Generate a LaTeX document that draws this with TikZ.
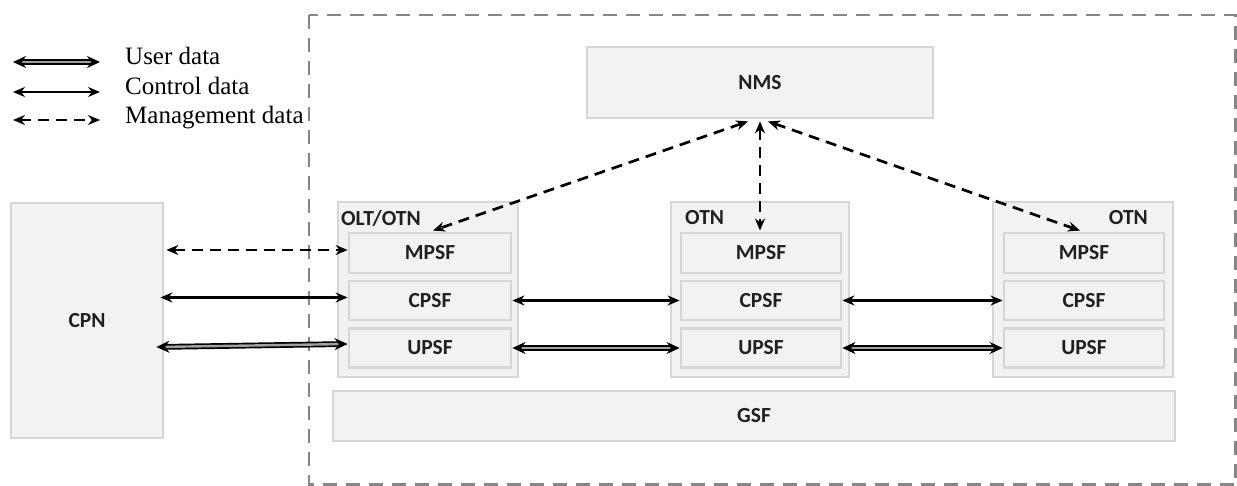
\documentclass[tikz,border=0pt]{standalone}
\usepackage{fontspec}
\setmainfont{Liberation Serif}
\newfontfamily\boxfont{Carlito}
\usetikzlibrary{arrows.meta,calc}

\definecolor{boxfill}{HTML}{F2F2F2}
\definecolor{boxline}{HTML}{D6D6D6}
\definecolor{framegray}{HTML}{868686}
\definecolor{labeltext}{HTML}{202020}
\definecolor{usermid}{HTML}{A0A0A0}

\begin{document}
\begin{tikzpicture}[x=1pt,y=-1pt,
  box/.style={draw=boxline, fill=boxfill, line width=2.8pt, inner sep=0pt,
    font=\boxfont\bfseries\fontsize{21.5}{24}\selectfont, text=labeltext},
  lbl/.style={inner sep=0pt, font=\boxfont\bfseries\fontsize{21.5}{24}\selectfont, text=labeltext},
  legtext/.style={inner sep=0pt, font=\fontsize{25}{28}\selectfont, anchor=base west},
  ctrl/.style={line width=2.7pt,
    {Stealth[length=12pt,width=10pt]}-{Stealth[length=12pt,width=10pt]}},
  mgmt/.style={ctrl, dash pattern=on 11pt off 7pt},
  user/.style={line width=1.7pt, double=usermid, double distance=2.4pt,
    {Stealth[length=13pt,width=12pt]}-{Stealth[length=13pt,width=12pt]}},
  frame/.style={draw=framegray, line width=2.6pt, dash pattern=on 14pt off 9pt}
]
\useasboundingbox (0,0) rectangle (1237,486);

% dashed frame around the network side
\draw[frame] (309,15) rectangle (1235.5,484.5);

% legend
\coordinate (lu1) at (13,62);  \coordinate (lu2) at (100,62);
\coordinate (lc1) at (13,92);  \coordinate (lc2) at (100,92);
\coordinate (lm1) at (13,120); \coordinate (lm2) at (100,120);
\draw[user] (lu1) -- (lu2);
\draw[ctrl] (lc1) -- (lc2);
\draw[mgmt] (lm1) -- (lm2);
\node[legtext] (tu) at (125,65) {User data};
\node[legtext] (tc) at (125,95) {Control data};
\node[legtext] (tm) at (125,124) {Management data};

% customer premises network
\node[box, minimum width=152, minimum height=235] (cpn) at (87,320.5) {CPN};

% network management system
\node[box, minimum width=346, minimum height=71] (nms) at (760,82.5) {NMS};

% node enclosures
\node[box, minimum width=180, minimum height=175] (olt) at (428,289.5) {};
\node[box, minimum width=178, minimum height=175] (otna) at (760,289.5) {};
\node[box, minimum width=180, minimum height=175] (otnb) at (1083,289.5) {};
\node[lbl, anchor=west] (oltl) at (341,218) {OLT/OTN};
\node[lbl, anchor=west] (otnal) at (685,218) {OTN};
\node[lbl, anchor=east] (otnbl) at (1148,218) {OTN};

% functional blocks
\foreach \n/\x/\w in {1/430/162, 2/761/160, 3/1084/160}{
  \node[box, minimum width=\w, minimum height=40] (m\n) at (\x,253) {MPSF};
  \node[box, minimum width=\w, minimum height=39] (c\n) at (\x,300.5) {CPSF};
  \node[box, minimum width=\w, minimum height=39] (u\n) at (\x,348) {UPSF};
}

% general service function
\node[box, minimum width=842, minimum height=50] (gsf) at (754,416) {GSF};

% CPN links
\draw[mgmt] ($(cpn.east |- m1.west)+(2,-3)$) -- ($(m1.west)+(0,-3)$);
\draw[ctrl] ($(cpn.east |- c1.west)+(-4,-3)$) -- ($(c1.west)+(0,-3)$);
\draw[user] ($(cpn.east)+(-8,26.5)$) -- ($(u1.west)+(0,-4)$);

% links between nodes
\draw[ctrl] (c1.east) -- (c2.west);
\draw[ctrl] (c2.east) -- (c3.west);
\draw[user] (u1.east) -- (u2.west);
\draw[user] (u2.east) -- (u3.west);

% management links from NMS
\draw[mgmt] ($(nms.south)+(-12,2)$) -- ($(m1.north)+(3,-1)$);
\draw[mgmt] ($(nms.south)+(0,2)$) -- ($(m2.north)+(-1,-1)$);
\draw[mgmt] ($(nms.south)+(8,2)$) -- ($(m3.north)+(-4,-1)$);
\end{tikzpicture}
\end{document}
